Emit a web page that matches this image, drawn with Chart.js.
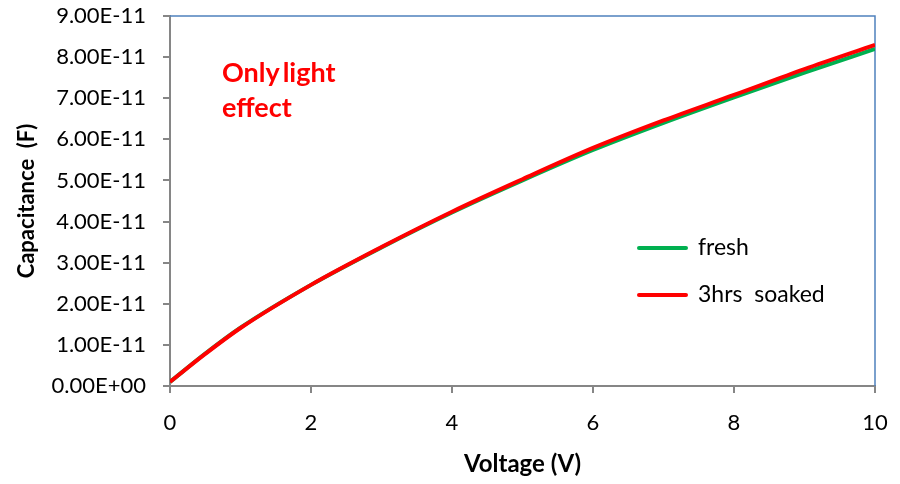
<!DOCTYPE html>
<html>
<head>
<meta charset="utf-8">
<script src="https://cdn.jsdelivr.net/npm/chart.js@4.4.1/dist/chart.umd.min.js"></script>
<style>
  html, body { margin: 0; padding: 0; background: #fff; }
  #wrap { position: relative; width: 900px; height: 484px; }
  .note { position: absolute; left: 222px; top: 54px; color: #ff0000; font: bold 27px Lato, sans-serif; line-height: 35px; word-spacing: -3px; }
  .legend { position: absolute; left: 637px; top: 232px; font: 23px Lato, sans-serif; color: #000; }
  .legend div { height: 47px; display: flex; align-items: flex-start; white-space: pre; }
  .legend span.sw { display: inline-block; width: 51px; height: 4px; border-radius: 2px; margin-top: 14px; margin-right: 10px; }
</style>
</head>
<body>
<div id="wrap">
  <canvas id="cap" width="900" height="484"></canvas>
  <div class="note">Only light<br>effect</div>
  <div class="legend">
    <div><span class="sw" style="background:#00b050"></span>fresh</div>
    <div><span class="sw" style="background:#ff0000"></span>3hrs  soaked</div>
  </div>
</div>
<script>
// C-V sweep, fresh vs soaked sample
const voltage = [0, 0.5, 1, 2, 3, 4, 5, 6, 7, 8, 9, 10];
const freshCap = [0.10e-11, 0.79e-11, 1.42e-11, 2.46e-11, 3.37e-11, 4.22e-11, 5.00e-11, 5.74e-11, 6.40e-11, 7.02e-11, 7.62e-11, 8.20e-11];
const soakedCap = [0.10e-11, 0.78e-11, 1.41e-11, 2.46e-11, 3.38e-11, 4.24e-11, 5.03e-11, 5.79e-11, 6.46e-11, 7.08e-11, 7.71e-11, 8.30e-11];

const axisGrey = '#868686';
const frameBlue = '#4f81bd';

function sciLabel(v) {
  if (Math.abs(v) < 1e-15) return '0.00E+00';
  const [m, e] = v.toExponential(2).split('e');
  const n = parseInt(e, 10);
  return m + 'E' + (n < 0 ? '-' : '+') + String(Math.abs(n)).padStart(2, '0');
}

// blue top/right edges of the plot frame
const frame = {
  id: 'frame',
  beforeDatasetsDraw(chart) {
    const { ctx, chartArea: a } = chart;
    ctx.save();
    ctx.strokeStyle = frameBlue;
    ctx.lineWidth = 1.5;
    ctx.beginPath();
    ctx.moveTo(a.left, a.top);
    ctx.lineTo(a.right, a.top);
    ctx.lineTo(a.right, a.bottom);
    ctx.stroke();
    ctx.restore();
  }
};

const pts = arr => voltage.map((v, i) => ({ x: v, y: arr[i] }));

new Chart(document.getElementById('cap'), {
  type: 'line',
  data: {
    datasets: [
      { label: 'fresh', data: pts(freshCap), borderColor: '#00b050', borderWidth: 4, pointRadius: 0, cubicInterpolationMode: 'monotone', order: 2 },
      { label: '3hrs soaked', data: pts(soakedCap), borderColor: '#ff0000', borderWidth: 4, pointRadius: 0, cubicInterpolationMode: 'monotone', order: 1 }
    ]
  },
  options: {
    responsive: false,
    animation: false,
    layout: { padding: { top: 16, right: 25, left: 0, bottom: 0 } },
    plugins: { legend: { display: false }, tooltip: { enabled: false } },
    scales: {
      x: {
        type: 'linear', min: 0, max: 10,
        afterFit: s => { s.height = 98; s.paddingLeft = 0; s.paddingRight = 0; },
        border: { color: axisGrey, width: 2 },
        grid: { drawOnChartArea: false, color: axisGrey, tickLength: 7, lineWidth: 2 },
        ticks: { stepSize: 2, color: '#000', font: { family: 'Lato', size: 22 }, padding: 17 },
        title: { display: true, text: 'Voltage (V)', color: '#000', font: { family: 'Lato', size: 24, weight: 'bold' }, padding: { bottom: 5 } }
      },
      y: {
        min: 0, max: 9e-11,
        afterFit: s => { s.width = 170; s.paddingTop = 0; s.paddingBottom = 0; },
        border: { color: axisGrey, width: 2 },
        grid: { drawOnChartArea: false, color: axisGrey, tickLength: 7, lineWidth: 2 },
        ticks: { stepSize: 1e-11, color: '#000', font: { family: 'Lato', size: 22 }, padding: 17, callback: v => sciLabel(v) },
        title: { display: true, text: 'Capacitance  (F)', color: '#000', font: { family: 'Lato', size: 22, weight: 'bold' }, padding: { top: 14 } }
      }
    }
  },
  plugins: [frame]
});
</script>
</body>
</html>
